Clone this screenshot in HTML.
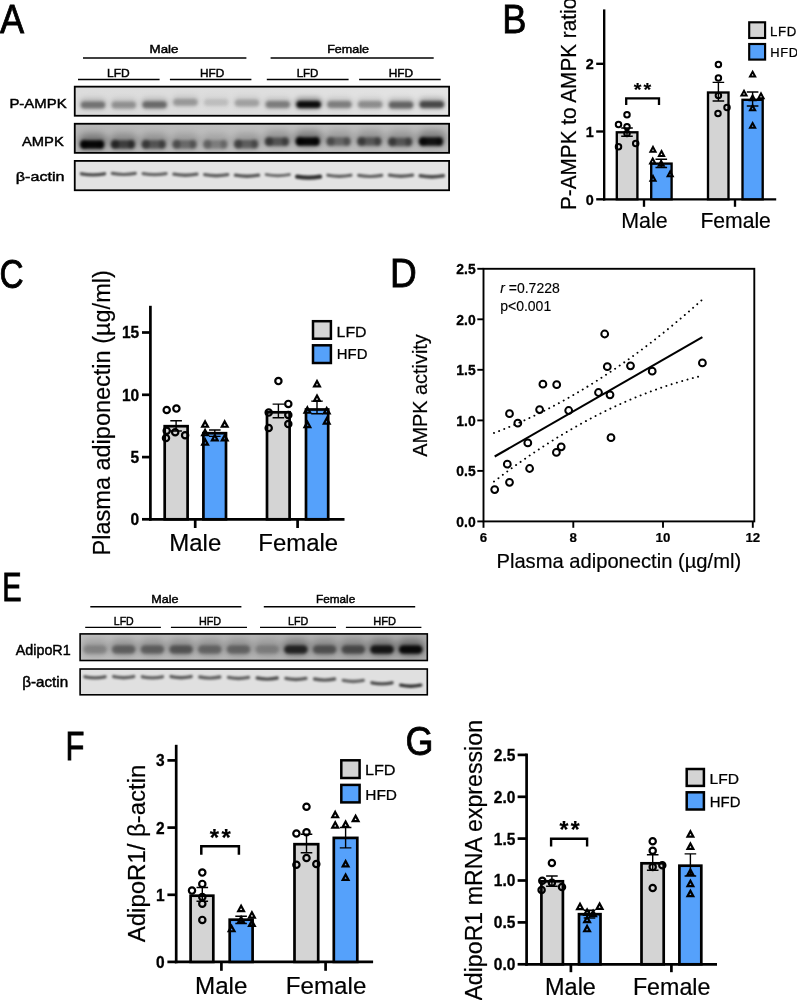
<!DOCTYPE html>
<html lang="en">
<head>
<meta charset="utf-8">
<title>Figure</title>
<style>
html,body{margin:0;padding:0;background:#fff;}
body{width:797px;height:1000px;overflow:hidden;}
svg{display:block;}
svg text{font-family:"Liberation Sans", sans-serif;fill:#000;}
</style>
</head>
<body>
<svg width="797" height="1000" viewBox="0 0 797 1000">
<rect width="797" height="1000" fill="#fff"/>
<defs>
<filter id="b0_7" x="-30%" y="-300%" width="160%" height="700%"><feGaussianBlur stdDeviation="0.7"/></filter>
<filter id="b0_9" x="-30%" y="-300%" width="160%" height="700%"><feGaussianBlur stdDeviation="0.9"/></filter>
<filter id="b1_4" x="-30%" y="-300%" width="160%" height="700%"><feGaussianBlur stdDeviation="1.4"/></filter>
<filter id="b1_8" x="-30%" y="-300%" width="160%" height="700%"><feGaussianBlur stdDeviation="1.8"/></filter>
<filter id="b2_4" x="-30%" y="-300%" width="160%" height="700%"><feGaussianBlur stdDeviation="2.4"/></filter>
<filter id="b3_5" x="-30%" y="-300%" width="160%" height="700%"><feGaussianBlur stdDeviation="3.5"/></filter>
<linearGradient id="gA1" x1="0" y1="0" x2="1" y2="0"><stop offset="0" stop-color="#dcdcdc"/><stop offset="0.5" stop-color="#dedede"/><stop offset="1" stop-color="#e4e4e4"/></linearGradient>
<linearGradient id="gA2" x1="0" y1="0" x2="1" y2="0"><stop offset="0" stop-color="#b6b6b6"/><stop offset="0.45" stop-color="#c0c0c0"/><stop offset="1" stop-color="#bcbcbc"/></linearGradient>
<linearGradient id="gE1" x1="0" y1="0" x2="1" y2="0"><stop offset="0" stop-color="#c0c0c0"/><stop offset="0.5" stop-color="#b6b6b6"/><stop offset="1" stop-color="#aaaaaa"/></linearGradient>
</defs>
<text transform="translate(0.0 33.0) scale(0.9057 1.0182)" font-size="40" stroke="#000" stroke-width="0.8">A</text>
<text transform="translate(149.61 53.3) scale(1.1912 1)" font-size="11.2" stroke="#000" stroke-width="0.45">Male</text>
<text transform="translate(327.18 53.3) scale(1.1217 1)" font-size="11.2" stroke="#000" stroke-width="0.45">Female</text>
<line x1="83" y1="58" x2="246.4" y2="58" stroke="#000" stroke-width="1.5" />
<line x1="270.6" y1="58" x2="433.7" y2="58" stroke="#000" stroke-width="1.5" />
<text transform="translate(107.03 76.9) scale(1.0718 1)" font-size="11.2" stroke="#000" stroke-width="0.45">LFD</text>
<text transform="translate(199.95 76.9) scale(1.0512 1)" font-size="11.2" stroke="#000" stroke-width="0.45">HFD</text>
<text transform="translate(296.67 76.9) scale(1.0256 1)" font-size="11.2" stroke="#000" stroke-width="0.45">LFD</text>
<text transform="translate(388.74 76.9) scale(1.0605 1)" font-size="11.2" stroke="#000" stroke-width="0.45">HFD</text>
<line x1="78" y1="79.6" x2="159.6" y2="79.6" stroke="#000" stroke-width="1.5" />
<line x1="169.9" y1="79.6" x2="251.4" y2="79.6" stroke="#000" stroke-width="1.5" />
<line x1="266.8" y1="79.6" x2="348.6" y2="79.6" stroke="#000" stroke-width="1.5" />
<line x1="359.1" y1="79.6" x2="440.7" y2="79.6" stroke="#000" stroke-width="1.5" />
<text transform="translate(9.4 108.4) scale(1.098 1)" font-size="13.6" stroke="#000" stroke-width="0.45">P-AMPK</text>
<text transform="translate(22.0 146.3) scale(1.085 1)" font-size="13.6" stroke="#000" stroke-width="0.45">AMPK</text>
<text transform="translate(15.82 181.2) scale(1.1847 1)" font-size="13.6" stroke="#000" stroke-width="0.45">β-actin</text>
<clipPath id="cpA1"><rect x="74.75" y="86.65" width="374.35" height="29.1"/></clipPath>
<rect x="74.75" y="86.65" width="374.35" height="29.1" fill="url(#gA1)"/>
<g clip-path="url(#cpA1)">
<g filter="url(#b2_4)">
<rect x="79.0" y="97.8" width="28" height="12" rx="6.0" fill="#000" fill-opacity="0.144"/>
<rect x="109.8" y="97.8" width="28" height="12" rx="6.0" fill="#000" fill-opacity="0.1008"/>
<rect x="140.6" y="97.6" width="28" height="12" rx="6.0" fill="#000" fill-opacity="0.15839999999999999"/>
<rect x="171.4" y="95.0" width="28" height="12" rx="6.0" fill="#000" fill-opacity="0.09"/>
<rect x="202.2" y="95.2" width="28" height="12" rx="6.0" fill="#000" fill-opacity="0.039599999999999996"/>
<rect x="233.0" y="95.8" width="28" height="12" rx="6.0" fill="#000" fill-opacity="0.07919999999999999"/>
<rect x="263.8" y="97.4" width="28" height="12" rx="6.0" fill="#000" fill-opacity="0.1296"/>
<rect x="294.6" y="97.2" width="28" height="12" rx="6.0" fill="#000" fill-opacity="0.3312"/>
<rect x="325.4" y="97.4" width="28" height="12" rx="6.0" fill="#000" fill-opacity="0.1296"/>
<rect x="356.2" y="97.4" width="28" height="12" rx="6.0" fill="#000" fill-opacity="0.108"/>
<rect x="387.0" y="97.8" width="28" height="12" rx="6.0" fill="#000" fill-opacity="0.17279999999999998"/>
<rect x="417.8" y="97.2" width="28" height="12" rx="6.0" fill="#000" fill-opacity="0.216"/>
</g>
<g filter="url(#b1_4)">
<rect x="80.75" y="101.5" width="24.5" height="7" rx="3.5" fill="#000" fill-opacity="0.4"/>
<rect x="111.55" y="101.5" width="24.5" height="7" rx="3.5" fill="#000" fill-opacity="0.28"/>
<rect x="142.35" y="101.3" width="24.5" height="7" rx="3.5" fill="#000" fill-opacity="0.44"/>
<rect x="173.15" y="98.7" width="24.5" height="7" rx="3.5" fill="#000" fill-opacity="0.25"/>
<rect x="203.95" y="98.9" width="24.5" height="7" rx="3.5" fill="#000" fill-opacity="0.11"/>
<rect x="234.75" y="99.5" width="24.5" height="7" rx="3.5" fill="#000" fill-opacity="0.22"/>
<rect x="265.55" y="101.1" width="24.5" height="7" rx="3.5" fill="#000" fill-opacity="0.36"/>
<rect x="296.35" y="100.9" width="24.5" height="7" rx="3.5" fill="#000" fill-opacity="0.92"/>
<rect x="327.15" y="101.1" width="24.5" height="7" rx="3.5" fill="#000" fill-opacity="0.36"/>
<rect x="357.95" y="101.1" width="24.5" height="7" rx="3.5" fill="#000" fill-opacity="0.3"/>
<rect x="388.75" y="101.5" width="24.5" height="7" rx="3.5" fill="#000" fill-opacity="0.48"/>
<rect x="419.55" y="100.9" width="24.5" height="7" rx="3.5" fill="#000" fill-opacity="0.6"/>
</g>
</g>
<rect x="74.75" y="86.65" width="374.35" height="29.1" fill="none" stroke="#000" stroke-width="1.8"/>
<clipPath id="cpA2"><rect x="74.75" y="123.75" width="374.35" height="29.1"/></clipPath>
<rect x="74.75" y="123.75" width="374.35" height="29.1" fill="url(#gA2)"/>
<g clip-path="url(#cpA2)">
<g filter="url(#b3_5)">
<rect x="78.5" y="133.6" width="29" height="16" rx="8.0" fill="#000" fill-opacity="0.34"/>
<rect x="109.3" y="133.4" width="29" height="16" rx="8.0" fill="#000" fill-opacity="0.2584"/>
<rect x="140.1" y="133.4" width="29" height="16" rx="8.0" fill="#000" fill-opacity="0.21760000000000002"/>
<rect x="170.9" y="133.4" width="29" height="16" rx="8.0" fill="#000" fill-opacity="0.1768"/>
<rect x="201.7" y="133.4" width="29" height="16" rx="8.0" fill="#000" fill-opacity="0.1428"/>
<rect x="232.5" y="133.2" width="29" height="16" rx="8.0" fill="#000" fill-opacity="0.19720000000000001"/>
<rect x="263.3" y="130.8" width="29" height="16" rx="8.0" fill="#000" fill-opacity="0.21760000000000002"/>
<rect x="294.1" y="130.4" width="29" height="16" rx="8.0" fill="#000" fill-opacity="0.34"/>
<rect x="324.9" y="130.6" width="29" height="16" rx="8.0" fill="#000" fill-opacity="0.1768"/>
<rect x="355.7" y="130.6" width="29" height="16" rx="8.0" fill="#000" fill-opacity="0.21080000000000002"/>
<rect x="386.5" y="131.0" width="29" height="16" rx="8.0" fill="#000" fill-opacity="0.21080000000000002"/>
<rect x="417.3" y="130.6" width="29" height="16" rx="8.0" fill="#000" fill-opacity="0.323"/>
</g>
<g filter="url(#b1_8)">
<rect x="80.0" y="140.35" width="24" height="8.5" rx="4.25" fill="#000" fill-opacity="0.95"/>
<rect x="80.0" y="139.65" width="8" height="9.5" rx="4.0" fill="#000" fill-opacity="0.55"/>
<rect x="97.5" y="139.65" width="7" height="9.5" rx="3.5" fill="#000" fill-opacity="0.45"/>
<rect x="110.8" y="140.15" width="24" height="8.5" rx="4.25" fill="#000" fill-opacity="0.5700000000000001"/>
<rect x="110.8" y="139.45" width="8" height="9.5" rx="4.0" fill="#000" fill-opacity="0.41800000000000004"/>
<rect x="128.3" y="139.45" width="7" height="9.5" rx="3.5" fill="#000" fill-opacity="0.342"/>
<rect x="141.6" y="140.15" width="24" height="8.5" rx="4.25" fill="#000" fill-opacity="0.44799999999999995"/>
<rect x="141.6" y="139.45" width="8" height="9.5" rx="4.0" fill="#000" fill-opacity="0.35200000000000004"/>
<rect x="159.1" y="139.45" width="7" height="9.5" rx="3.5" fill="#000" fill-opacity="0.28800000000000003"/>
<rect x="172.4" y="140.15" width="24" height="8.5" rx="4.25" fill="#000" fill-opacity="0.338"/>
<rect x="172.4" y="139.45" width="8" height="9.5" rx="4.0" fill="#000" fill-opacity="0.28600000000000003"/>
<rect x="189.9" y="139.45" width="7" height="9.5" rx="3.5" fill="#000" fill-opacity="0.234"/>
<rect x="203.2" y="140.15" width="24" height="8.5" rx="4.25" fill="#000" fill-opacity="0.252"/>
<rect x="203.2" y="139.45" width="8" height="9.5" rx="4.0" fill="#000" fill-opacity="0.231"/>
<rect x="220.7" y="139.45" width="7" height="9.5" rx="3.5" fill="#000" fill-opacity="0.189"/>
<rect x="234.0" y="139.95" width="24" height="8.5" rx="4.25" fill="#000" fill-opacity="0.40599999999999997"/>
<rect x="234.0" y="139.25" width="8" height="9.5" rx="4.0" fill="#000" fill-opacity="0.319"/>
<rect x="251.5" y="139.25" width="7" height="9.5" rx="3.5" fill="#000" fill-opacity="0.261"/>
<rect x="264.8" y="137.55" width="24" height="8.5" rx="4.25" fill="#000" fill-opacity="0.4608"/>
<rect x="264.8" y="136.85" width="8" height="9.5" rx="4.0" fill="#000" fill-opacity="0.35200000000000004"/>
<rect x="282.3" y="136.85" width="7" height="9.5" rx="3.5" fill="#000" fill-opacity="0.28800000000000003"/>
<rect x="295.6" y="137.15" width="24" height="8.5" rx="4.25" fill="#000" fill-opacity="0.95"/>
<rect x="295.6" y="136.45" width="8" height="9.5" rx="4.0" fill="#000" fill-opacity="0.55"/>
<rect x="313.1" y="136.45" width="7" height="9.5" rx="3.5" fill="#000" fill-opacity="0.45"/>
<rect x="326.4" y="137.35" width="24" height="8.5" rx="4.25" fill="#000" fill-opacity="0.364"/>
<rect x="326.4" y="136.65" width="8" height="9.5" rx="4.0" fill="#000" fill-opacity="0.28600000000000003"/>
<rect x="343.9" y="136.65" width="7" height="9.5" rx="3.5" fill="#000" fill-opacity="0.234"/>
<rect x="357.2" y="137.35" width="24" height="8.5" rx="4.25" fill="#000" fill-opacity="0.434"/>
<rect x="357.2" y="136.65" width="8" height="9.5" rx="4.0" fill="#000" fill-opacity="0.341"/>
<rect x="374.7" y="136.65" width="7" height="9.5" rx="3.5" fill="#000" fill-opacity="0.279"/>
<rect x="388.0" y="137.75" width="24" height="8.5" rx="4.25" fill="#000" fill-opacity="0.44639999999999996"/>
<rect x="388.0" y="137.05" width="8" height="9.5" rx="4.0" fill="#000" fill-opacity="0.341"/>
<rect x="405.5" y="137.05" width="7" height="9.5" rx="3.5" fill="#000" fill-opacity="0.279"/>
<rect x="418.8" y="137.35" width="24" height="8.5" rx="4.25" fill="#000" fill-opacity="0.874"/>
<rect x="418.8" y="136.65" width="8" height="9.5" rx="4.0" fill="#000" fill-opacity="0.5225"/>
<rect x="436.3" y="136.65" width="7" height="9.5" rx="3.5" fill="#000" fill-opacity="0.4275"/>
</g>
</g>
<rect x="74.75" y="123.75" width="374.35" height="29.1" fill="none" stroke="#000" stroke-width="1.8"/>
<clipPath id="cpA3"><rect x="74.75" y="160.9" width="374.35" height="29.35"/></clipPath>
<rect x="74.75" y="160.9" width="374.35" height="29.35" fill="#e3e3e3"/>
<g clip-path="url(#cpA3)">
<g filter="url(#b0_9)">
<path d="M81.5 173.8Q93.0 175.96 104.5 173.8" stroke="#000" stroke-opacity="0.66" stroke-width="3.4" fill="none" stroke-linecap="round"/>
<path d="M112.3 173.4Q123.8 175.56 135.3 173.4" stroke="#000" stroke-opacity="0.58" stroke-width="3.2" fill="none" stroke-linecap="round"/>
<path d="M143.1 173.6Q154.6 175.76 166.1 173.6" stroke="#000" stroke-opacity="0.55" stroke-width="3.2" fill="none" stroke-linecap="round"/>
<path d="M173.9 174.2Q185.4 176.36 196.9 174.2" stroke="#000" stroke-opacity="0.58" stroke-width="3.4" fill="none" stroke-linecap="round"/>
<path d="M204.7 174.6Q216.2 176.76 227.7 174.6" stroke="#000" stroke-opacity="0.58" stroke-width="3.4" fill="none" stroke-linecap="round"/>
<path d="M235.5 175.2Q247.0 177.36 258.5 175.2" stroke="#000" stroke-opacity="0.62" stroke-width="3.4" fill="none" stroke-linecap="round"/>
<path d="M266.3 174.6Q277.8 176.76 289.3 174.6" stroke="#000" stroke-opacity="0.55" stroke-width="3.0" fill="none" stroke-linecap="round"/>
<path d="M297.1 176.6Q308.6 178.76 320.1 176.6" stroke="#000" stroke-opacity="0.78" stroke-width="4.2" fill="none" stroke-linecap="round"/>
<path d="M327.9 175.2Q339.4 177.36 350.9 175.2" stroke="#000" stroke-opacity="0.58" stroke-width="3.2" fill="none" stroke-linecap="round"/>
<path d="M358.7 175.4Q370.2 177.56 381.7 175.4" stroke="#000" stroke-opacity="0.58" stroke-width="3.2" fill="none" stroke-linecap="round"/>
<path d="M389.5 175.2Q401.0 177.36 412.5 175.2" stroke="#000" stroke-opacity="0.6" stroke-width="3.4" fill="none" stroke-linecap="round"/>
<path d="M420.3 175.8Q431.8 177.96 443.3 175.8" stroke="#000" stroke-opacity="0.66" stroke-width="3.6" fill="none" stroke-linecap="round"/>
</g>
</g>
<rect x="74.75" y="160.9" width="374.35" height="29.35" fill="none" stroke="#000" stroke-width="1.8"/>
<text transform="translate(502.15 32.9) scale(0.9082 1.0145)" font-size="40" stroke="#000" stroke-width="0.8">B</text>
<text transform="translate(576.4 210.04) rotate(-90) scale(0.9356 1)" font-size="22.2" stroke="#000" stroke-width="0.2">P-AMPK to AMPK ratio</text>
<line x1="604.2" y1="9.4" x2="604.2" y2="200.5" stroke="#000" stroke-width="2.35" />
<line x1="603.1" y1="199.3" x2="776.2" y2="199.3" stroke="#000" stroke-width="2.35" />
<line x1="596.2" y1="199.3" x2="604.2" y2="199.3" stroke="#000" stroke-width="2.35" />
<text transform="translate(593.8 204.85) scale(1 1.07)" text-anchor="end" font-size="14.4" font-weight="bold" stroke="#000" stroke-width="0.3">0</text>
<line x1="596.2" y1="131.5" x2="604.2" y2="131.5" stroke="#000" stroke-width="2.35" />
<text transform="translate(593.8 137.05) scale(1 1.07)" text-anchor="end" font-size="14.4" font-weight="bold" stroke="#000" stroke-width="0.3">1</text>
<line x1="596.2" y1="63.8" x2="604.2" y2="63.8" stroke="#000" stroke-width="2.35" />
<text transform="translate(593.8 69.35) scale(1 1.07)" text-anchor="end" font-size="14.4" font-weight="bold" stroke="#000" stroke-width="0.3">2</text>
<line x1="644" y1="199.3" x2="644" y2="206.8" stroke="#000" stroke-width="2.35" />
<line x1="735" y1="199.3" x2="735" y2="206.8" stroke="#000" stroke-width="2.35" />
<text transform="translate(621.26 227.8) scale(0.9932 1)" font-size="21.5" stroke="#000" stroke-width="0.2">Male</text>
<text transform="translate(700.38 227.8) scale(0.9841 1)" font-size="21.5" stroke="#000" stroke-width="0.2">Female</text>
<rect x="616.8" y="132.3" width="20.6" height="67.0" fill="#d4d4d4" stroke="#000" stroke-width="2.35"/>
<rect x="651.2" y="163.6" width="20.4" height="35.7" fill="#55a1fb" stroke="#000" stroke-width="2.35"/>
<rect x="708" y="92.5" width="20.5" height="106.8" fill="#d4d4d4" stroke="#000" stroke-width="2.35"/>
<rect x="742.5" y="99.8" width="20.2" height="99.5" fill="#55a1fb" stroke="#000" stroke-width="2.35"/>
<path d="M627 128V136.2M621.2 128H632.8M621.2 136.2H632.8" stroke="#000" stroke-width="1.4" fill="none"/>
<path d="M661.3 159.3V167.5M655.5 159.3H667.1M655.5 167.5H667.1" stroke="#000" stroke-width="1.4" fill="none"/>
<path d="M718.4 82.4V101M712.6 82.4H724.2M712.6 101H724.2" stroke="#000" stroke-width="1.4" fill="none"/>
<path d="M752.6 92V106M746.8 92H758.4M746.8 106H758.4" stroke="#000" stroke-width="1.4" fill="none"/>
<circle cx="627" cy="114.7" r="2.75" fill="none" stroke="#000" stroke-width="2.0"/>
<circle cx="618.5" cy="124.5" r="2.75" fill="none" stroke="#000" stroke-width="2.0"/>
<circle cx="627" cy="126.7" r="2.75" fill="none" stroke="#000" stroke-width="2.0"/>
<circle cx="627" cy="133.5" r="2.75" fill="none" stroke="#000" stroke-width="2.0"/>
<circle cx="635.7" cy="143.5" r="2.75" fill="none" stroke="#000" stroke-width="2.0"/>
<circle cx="618.5" cy="146.7" r="2.75" fill="none" stroke="#000" stroke-width="2.0"/>
<path d="M653 146.9L655.6 151.71H650.4Z" fill="none" stroke="#000" stroke-width="2.0"/>
<path d="M661.5 151.1L664.1 155.91H658.9Z" fill="none" stroke="#000" stroke-width="2.0"/>
<path d="M652.7 158.6L655.3 163.41H650.1Z" fill="none" stroke="#000" stroke-width="2.0"/>
<path d="M661.2 160.9L663.8 165.71H658.6Z" fill="none" stroke="#000" stroke-width="2.0"/>
<path d="M670.2 171.4L672.8 176.21H667.6Z" fill="none" stroke="#000" stroke-width="2.0"/>
<path d="M653 175.9L655.6 180.71H650.4Z" fill="none" stroke="#000" stroke-width="2.0"/>
<circle cx="718.4" cy="64.6" r="2.75" fill="none" stroke="#000" stroke-width="2.0"/>
<circle cx="718.4" cy="78" r="2.75" fill="none" stroke="#000" stroke-width="2.0"/>
<circle cx="718.4" cy="95.6" r="2.75" fill="none" stroke="#000" stroke-width="2.0"/>
<circle cx="727" cy="107.4" r="2.75" fill="none" stroke="#000" stroke-width="2.0"/>
<circle cx="718" cy="113.4" r="2.75" fill="none" stroke="#000" stroke-width="2.0"/>
<path d="M752.6 71.8L755.2 76.61H750.0Z" fill="none" stroke="#000" stroke-width="2.0"/>
<path d="M744 90.8L746.6 95.61H741.4Z" fill="none" stroke="#000" stroke-width="2.0"/>
<path d="M761 93.4L763.6 98.21H758.4Z" fill="none" stroke="#000" stroke-width="2.0"/>
<path d="M752.6 95.4L755.2 100.21H750.0Z" fill="none" stroke="#000" stroke-width="2.0"/>
<path d="M752.6 105.4L755.2 110.21H750.0Z" fill="none" stroke="#000" stroke-width="2.0"/>
<path d="M752.6 123.0L755.2 127.81H750.0Z" fill="none" stroke="#000" stroke-width="2.0"/>
<path d="M626.2 105.1V98.3H659V105.1" fill="none" stroke="#000" stroke-width="2.3"/>
<text transform="translate(633.69 95.8) scale(0.8241 0.8)" font-size="24" font-weight="bold" stroke="#000" stroke-width="0.2" letter-spacing="2.5">**</text>
<rect x="749.2" y="22.3" width="15.9" height="15.7" fill="#d4d4d4" stroke="#000" stroke-width="2.15"/>
<rect x="749.2" y="44" width="15.9" height="15.6" fill="#55a1fb" stroke="#000" stroke-width="2.15"/>
<text transform="translate(770.0 35.9) scale(1.002 1)" font-size="13.2" stroke="#000" stroke-width="0.25" letter-spacing="0.7">LFD</text>
<text transform="translate(770.22 57.0) scale(0.9778 1)" font-size="13.2" stroke="#000" stroke-width="0.25" letter-spacing="0.7">HFD</text>
<text transform="translate(-0.57 287.5) scale(0.8356 1.0035)" font-size="40" stroke="#000" stroke-width="0.8">C</text>
<text transform="translate(110.4 555.38) rotate(-90) scale(0.9876 1)" font-size="23.8" stroke="#000" stroke-width="0.2">Plasma adiponectin (µg/ml)</text>
<line x1="150.4" y1="305.8" x2="150.4" y2="520.65" stroke="#000" stroke-width="2.7" />
<line x1="149.05" y1="519.3" x2="344.5" y2="519.3" stroke="#000" stroke-width="2.7" />
<line x1="142" y1="519.3" x2="150.4" y2="519.3" stroke="#000" stroke-width="2.7" />
<text transform="translate(139.2 525.27) scale(1 1.07)" text-anchor="end" font-size="15.5" font-weight="bold" stroke="#000" stroke-width="0.3">0</text>
<line x1="142" y1="457.1" x2="150.4" y2="457.1" stroke="#000" stroke-width="2.7" />
<text transform="translate(139.2 463.07) scale(1 1.07)" text-anchor="end" font-size="15.5" font-weight="bold" stroke="#000" stroke-width="0.3">5</text>
<line x1="142" y1="394.8" x2="150.4" y2="394.8" stroke="#000" stroke-width="2.7" />
<text transform="translate(139.2 400.77) scale(1 1.07)" text-anchor="end" font-size="15.5" font-weight="bold" stroke="#000" stroke-width="0.3">10</text>
<line x1="142" y1="332.5" x2="150.4" y2="332.5" stroke="#000" stroke-width="2.7" />
<text transform="translate(139.2 338.47) scale(1 1.07)" text-anchor="end" font-size="15.5" font-weight="bold" stroke="#000" stroke-width="0.3">15</text>
<line x1="195.2" y1="519.3" x2="195.2" y2="528" stroke="#000" stroke-width="2.7" />
<line x1="297.6" y1="519.3" x2="297.6" y2="528" stroke="#000" stroke-width="2.7" />
<text transform="translate(169.26 551.4) scale(1.0208 1)" font-size="23.5" stroke="#000" stroke-width="0.2">Male</text>
<text transform="translate(258.36 551.4) scale(1.0179 1)" font-size="23.5" stroke="#000" stroke-width="0.2">Female</text>
<rect x="164.7" y="426.2" width="22.9" height="93.1" fill="#d4d4d4" stroke="#000" stroke-width="2.7"/>
<rect x="203.4" y="433.2" width="22.6" height="86.1" fill="#55a1fb" stroke="#000" stroke-width="2.7"/>
<rect x="267" y="412.3" width="22.6" height="107.0" fill="#d4d4d4" stroke="#000" stroke-width="2.7"/>
<rect x="306" y="409.5" width="22.2" height="109.8" fill="#55a1fb" stroke="#000" stroke-width="2.7"/>
<path d="M176.1 420.8V431M170.3 420.8H181.9M170.3 431H181.9" stroke="#000" stroke-width="1.4" fill="none"/>
<path d="M214.8 430V436.4M209.0 430H220.6M209.0 436.4H220.6" stroke="#000" stroke-width="1.4" fill="none"/>
<path d="M278.4 404.1V417.7M272.6 404.1H284.2M272.6 417.7H284.2" stroke="#000" stroke-width="1.4" fill="none"/>
<path d="M317 401.1V413.8M311.2 401.1H322.8M311.2 413.8H322.8" stroke="#000" stroke-width="1.4" fill="none"/>
<circle cx="166.7" cy="410" r="3.15" fill="none" stroke="#000" stroke-width="2.2"/>
<circle cx="176.4" cy="408.6" r="3.15" fill="none" stroke="#000" stroke-width="2.2"/>
<circle cx="166.7" cy="430.7" r="3.15" fill="none" stroke="#000" stroke-width="2.2"/>
<circle cx="175.2" cy="432.3" r="3.15" fill="none" stroke="#000" stroke-width="2.2"/>
<circle cx="185.1" cy="435.3" r="3.15" fill="none" stroke="#000" stroke-width="2.2"/>
<circle cx="166" cy="438" r="3.15" fill="none" stroke="#000" stroke-width="2.2"/>
<path d="M205.1 421.4L208.0 426.76H202.2Z" fill="none" stroke="#000" stroke-width="2.2"/>
<path d="M224.7 421.4L227.6 426.76H221.8Z" fill="none" stroke="#000" stroke-width="2.2"/>
<path d="M205.1 429.9L208.0 435.26H202.2Z" fill="none" stroke="#000" stroke-width="2.2"/>
<path d="M214.8 435.1L217.7 440.46H211.9Z" fill="none" stroke="#000" stroke-width="2.2"/>
<path d="M224.7 435.1L227.6 440.46H221.8Z" fill="none" stroke="#000" stroke-width="2.2"/>
<path d="M205.1 439.3L208.0 444.66H202.2Z" fill="none" stroke="#000" stroke-width="2.2"/>
<circle cx="278.4" cy="381.1" r="3.15" fill="none" stroke="#000" stroke-width="2.2"/>
<circle cx="288.3" cy="403.9" r="3.15" fill="none" stroke="#000" stroke-width="2.2"/>
<circle cx="268.7" cy="412.6" r="3.15" fill="none" stroke="#000" stroke-width="2.2"/>
<circle cx="288.3" cy="414.9" r="3.15" fill="none" stroke="#000" stroke-width="2.2"/>
<circle cx="288.3" cy="424.1" r="3.15" fill="none" stroke="#000" stroke-width="2.2"/>
<circle cx="268.7" cy="428" r="3.15" fill="none" stroke="#000" stroke-width="2.2"/>
<path d="M317 381.0L319.9 386.36H314.1Z" fill="none" stroke="#000" stroke-width="2.2"/>
<path d="M317 395.5L319.9 400.86H314.1Z" fill="none" stroke="#000" stroke-width="2.2"/>
<path d="M307.4 407.4L310.3 412.76H304.5Z" fill="none" stroke="#000" stroke-width="2.2"/>
<path d="M326.7 408.1L329.6 413.46H323.8Z" fill="none" stroke="#000" stroke-width="2.2"/>
<path d="M326.7 418.2L329.6 423.56H323.8Z" fill="none" stroke="#000" stroke-width="2.2"/>
<path d="M307.4 421.7L310.3 427.06H304.5Z" fill="none" stroke="#000" stroke-width="2.2"/>
<rect x="313" y="321.2" width="17.9" height="17.5" fill="#d4d4d4" stroke="#000" stroke-width="2.5"/>
<rect x="313" y="345.3" width="17.9" height="17.7" fill="#55a1fb" stroke="#000" stroke-width="2.5"/>
<text transform="translate(336.54 336.6) scale(1.0902 1)" font-size="14.6" stroke="#000" stroke-width="0.25">LFD</text>
<text transform="translate(336.82 359.2) scale(1.0214 1)" font-size="14.6" stroke="#000" stroke-width="0.25">HFD</text>
<text transform="translate(389.99 287.0) scale(0.9263 1.0218)" font-size="40" stroke="#000" stroke-width="0.8">D</text>
<text transform="translate(427.2 456.7) rotate(-90) scale(0.9687 1)" font-size="20.5" stroke="#000" stroke-width="0.2">AMPK activity</text>
<rect x="483.5" y="268.8" width="270.8" height="252.6" fill="none" stroke="#000" stroke-width="1.9"/>
<line x1="477.3" y1="521.4" x2="483.5" y2="521.4" stroke="#000" stroke-width="1.9" />
<text transform="translate(475.6 526.75) scale(1 1.07)" text-anchor="end" font-size="13.9" font-weight="bold" stroke="#000" stroke-width="0.3">0.0</text>
<line x1="477.3" y1="470.9" x2="483.5" y2="470.9" stroke="#000" stroke-width="1.9" />
<text transform="translate(475.6 476.25) scale(1 1.07)" text-anchor="end" font-size="13.9" font-weight="bold" stroke="#000" stroke-width="0.3">0.5</text>
<line x1="477.3" y1="420.4" x2="483.5" y2="420.4" stroke="#000" stroke-width="1.9" />
<text transform="translate(475.6 425.75) scale(1 1.07)" text-anchor="end" font-size="13.9" font-weight="bold" stroke="#000" stroke-width="0.3">1.0</text>
<line x1="477.3" y1="369.8" x2="483.5" y2="369.8" stroke="#000" stroke-width="1.9" />
<text transform="translate(475.6 375.15) scale(1 1.07)" text-anchor="end" font-size="13.9" font-weight="bold" stroke="#000" stroke-width="0.3">1.5</text>
<line x1="477.3" y1="319.3" x2="483.5" y2="319.3" stroke="#000" stroke-width="1.9" />
<text transform="translate(475.6 324.65) scale(1 1.07)" text-anchor="end" font-size="13.9" font-weight="bold" stroke="#000" stroke-width="0.3">2.0</text>
<line x1="477.3" y1="268.8" x2="483.5" y2="268.8" stroke="#000" stroke-width="1.9" />
<text transform="translate(475.6 274.15) scale(1 1.07)" text-anchor="end" font-size="13.9" font-weight="bold" stroke="#000" stroke-width="0.3">2.5</text>
<line x1="483.5" y1="521.4" x2="483.5" y2="527.8" stroke="#000" stroke-width="1.9" />
<text x="483.5" y="541.7" text-anchor="middle" font-size="13.3" font-weight="bold" stroke="#000" stroke-width="0.2" >6</text>
<line x1="573.3" y1="521.4" x2="573.3" y2="527.8" stroke="#000" stroke-width="1.9" />
<text x="573.3" y="541.7" text-anchor="middle" font-size="13.3" font-weight="bold" stroke="#000" stroke-width="0.2" >8</text>
<line x1="663" y1="521.4" x2="663" y2="527.8" stroke="#000" stroke-width="1.9" />
<text x="663" y="541.7" text-anchor="middle" font-size="13.3" font-weight="bold" stroke="#000" stroke-width="0.2" >10</text>
<line x1="752.8" y1="521.4" x2="752.8" y2="527.8" stroke="#000" stroke-width="1.9" />
<text x="752.8" y="541.7" text-anchor="middle" font-size="13.3" font-weight="bold" stroke="#000" stroke-width="0.2" >12</text>
<text transform="translate(496.48 567.7) scale(0.9835 1)" font-size="20.5" stroke="#000" stroke-width="0.2">Plasma adiponectin (µg/ml)</text>
<text x="500.2" y="293.4" text-anchor="start" font-size="14" stroke="#000" stroke-width="0.15" ><tspan font-style="italic">r</tspan> =0.7228</text>
<text x="500.2" y="310.7" text-anchor="start" font-size="14" stroke="#000" stroke-width="0.15" >p&lt;0.001</text>
<path d="M494.7 456.5L702.4 337.1" stroke="#000" stroke-width="2.1" fill="none"/>
<path d="M494 433Q598.5 393.4 703 299" stroke="#000" stroke-width="1.9" fill="none" stroke-dasharray="0.1 5.4" stroke-linecap="round"/>
<path d="M494 481.6Q597.5 401.2 701 376" stroke="#000" stroke-width="1.9" fill="none" stroke-dasharray="0.1 5.4" stroke-linecap="round"/>
<circle cx="604.7" cy="334" r="3.4" fill="none" stroke="#000" stroke-width="2.0"/>
<circle cx="607.3" cy="366.7" r="3.4" fill="none" stroke="#000" stroke-width="2.0"/>
<circle cx="630.5" cy="365.8" r="3.4" fill="none" stroke="#000" stroke-width="2.0"/>
<circle cx="542.9" cy="384.2" r="3.4" fill="none" stroke="#000" stroke-width="2.0"/>
<circle cx="556.7" cy="384.7" r="3.4" fill="none" stroke="#000" stroke-width="2.0"/>
<circle cx="598.5" cy="392.5" r="3.4" fill="none" stroke="#000" stroke-width="2.0"/>
<circle cx="610" cy="394.8" r="3.4" fill="none" stroke="#000" stroke-width="2.0"/>
<circle cx="539.6" cy="409.6" r="3.4" fill="none" stroke="#000" stroke-width="2.0"/>
<circle cx="568.7" cy="410.5" r="3.4" fill="none" stroke="#000" stroke-width="2.0"/>
<circle cx="509.5" cy="413.7" r="3.4" fill="none" stroke="#000" stroke-width="2.0"/>
<circle cx="517.8" cy="423.2" r="3.4" fill="none" stroke="#000" stroke-width="2.0"/>
<circle cx="611" cy="437.7" r="3.4" fill="none" stroke="#000" stroke-width="2.0"/>
<circle cx="527.8" cy="442.9" r="3.4" fill="none" stroke="#000" stroke-width="2.0"/>
<circle cx="561.2" cy="446.8" r="3.4" fill="none" stroke="#000" stroke-width="2.0"/>
<circle cx="556.4" cy="452.4" r="3.4" fill="none" stroke="#000" stroke-width="2.0"/>
<circle cx="507.3" cy="464.2" r="3.4" fill="none" stroke="#000" stroke-width="2.0"/>
<circle cx="529.6" cy="468.5" r="3.4" fill="none" stroke="#000" stroke-width="2.0"/>
<circle cx="509.5" cy="482.3" r="3.4" fill="none" stroke="#000" stroke-width="2.0"/>
<circle cx="494.7" cy="489.6" r="3.4" fill="none" stroke="#000" stroke-width="2.0"/>
<circle cx="702.4" cy="362.9" r="3.4" fill="none" stroke="#000" stroke-width="2.0"/>
<circle cx="652.2" cy="371.2" r="3.4" fill="none" stroke="#000" stroke-width="2.0"/>
<text transform="translate(2.34 601.0) scale(0.7264 1.0109)" font-size="40" stroke="#000" stroke-width="0.85">E</text>
<text transform="translate(151.23 602.5) scale(1.0667 1)" font-size="11.8" stroke="#000" stroke-width="0.45">Male</text>
<text transform="translate(316.0 602.5) scale(0.9987 1)" font-size="11.8" stroke="#000" stroke-width="0.45">Female</text>
<line x1="90.3" y1="606.8" x2="241.4" y2="606.8" stroke="#000" stroke-width="1.4" />
<line x1="263.8" y1="606.8" x2="415.2" y2="606.8" stroke="#000" stroke-width="1.4" />
<text transform="translate(113.8 624.6) scale(0.8964 1)" font-size="11.8" stroke="#000" stroke-width="0.45">LFD</text>
<text transform="translate(198.89 624.6) scale(0.9143 1)" font-size="11.8" stroke="#000" stroke-width="0.45">HFD</text>
<text transform="translate(287.99 624.6) scale(0.9108 1)" font-size="11.8" stroke="#000" stroke-width="0.45">LFD</text>
<text transform="translate(373.36 624.6) scale(0.9363 1)" font-size="11.8" stroke="#000" stroke-width="0.45">HFD</text>
<line x1="85.2" y1="627.4" x2="160.9" y2="627.4" stroke="#000" stroke-width="1.4" />
<line x1="170.9" y1="627.4" x2="247" y2="627.4" stroke="#000" stroke-width="1.4" />
<line x1="260" y1="627.4" x2="336" y2="627.4" stroke="#000" stroke-width="1.4" />
<line x1="345.9" y1="627.4" x2="421.4" y2="627.4" stroke="#000" stroke-width="1.4" />
<text transform="translate(15.8 654.6) scale(1.0226 1)" font-size="14" stroke="#000" stroke-width="0.45">AdipoR1</text>
<text transform="translate(22.21 687.0) scale(1.0864 1)" font-size="14" stroke="#000" stroke-width="0.45">β-actin</text>
<clipPath id="cpE1"><rect x="80.1" y="633.9" width="347.2" height="26.6"/></clipPath>
<rect x="80.1" y="633.9" width="347.2" height="26.6" fill="url(#gE1)"/>
<g clip-path="url(#cpE1)">
<g filter="url(#b3_5)">
<rect x="81.0" y="639.0" width="28" height="17" rx="8.5" fill="#000" fill-opacity="0.1572"/>
<rect x="109.7" y="639.0" width="28" height="17" rx="8.5" fill="#000" fill-opacity="0.2092"/>
<rect x="138.4" y="639.0" width="28" height="17" rx="8.5" fill="#000" fill-opacity="0.2092"/>
<rect x="167.1" y="639.0" width="28" height="17" rx="8.5" fill="#000" fill-opacity="0.2248"/>
<rect x="195.8" y="639.0" width="28" height="17" rx="8.5" fill="#000" fill-opacity="0.1988"/>
<rect x="224.5" y="639.0" width="28" height="17" rx="8.5" fill="#000" fill-opacity="0.1988"/>
<rect x="253.2" y="639.0" width="28" height="17" rx="8.5" fill="#000" fill-opacity="0.1572"/>
<rect x="281.9" y="639.0" width="28" height="17" rx="8.5" fill="#000" fill-opacity="0.30800000000000005"/>
<rect x="310.6" y="639.0" width="28" height="17" rx="8.5" fill="#000" fill-opacity="0.2248"/>
<rect x="339.3" y="639.0" width="28" height="17" rx="8.5" fill="#000" fill-opacity="0.23520000000000002"/>
<rect x="368.0" y="639.0" width="28" height="17" rx="8.5" fill="#000" fill-opacity="0.334"/>
<rect x="396.7" y="639.0" width="28" height="17" rx="8.5" fill="#000" fill-opacity="0.36"/>
</g>
<g filter="url(#b1_8)">
<rect x="83.25" y="645.35" width="23.5" height="8.5" rx="4.25" fill="#000" fill-opacity="0.2024"/>
<rect x="111.95" y="645.35" width="23.5" height="8.5" rx="4.25" fill="#000" fill-opacity="0.3864"/>
<rect x="140.65" y="645.35" width="23.5" height="8.5" rx="4.25" fill="#000" fill-opacity="0.3864"/>
<rect x="169.35" y="645.35" width="23.5" height="8.5" rx="4.25" fill="#000" fill-opacity="0.4416"/>
<rect x="198.05" y="645.35" width="23.5" height="8.5" rx="4.25" fill="#000" fill-opacity="0.3496"/>
<rect x="226.75" y="645.35" width="23.5" height="8.5" rx="4.25" fill="#000" fill-opacity="0.3496"/>
<rect x="255.45" y="645.35" width="23.5" height="8.5" rx="4.25" fill="#000" fill-opacity="0.2024"/>
<rect x="284.15" y="645.35" width="23.5" height="8.5" rx="4.25" fill="#000" fill-opacity="0.7360000000000001"/>
<rect x="312.85" y="645.35" width="23.5" height="8.5" rx="4.25" fill="#000" fill-opacity="0.4416"/>
<rect x="341.55" y="645.35" width="23.5" height="8.5" rx="4.25" fill="#000" fill-opacity="0.47840000000000005"/>
<rect x="370.25" y="645.35" width="23.5" height="8.5" rx="4.25" fill="#000" fill-opacity="0.8280000000000001"/>
<rect x="398.95" y="645.35" width="23.5" height="8.5" rx="4.25" fill="#000" fill-opacity="0.92"/>
</g>
</g>
<rect x="80.1" y="633.9" width="347.2" height="26.6" fill="none" stroke="#000" stroke-width="1.6"/>
<clipPath id="cpE2"><rect x="80.1" y="669" width="347.2" height="25.8"/></clipPath>
<rect x="80.1" y="669" width="347.2" height="25.8" fill="#e0e0e0"/>
<g clip-path="url(#cpE2)">
<g filter="url(#b0_9)">
<path d="M85.0 676.8Q95.0 678.96 105.0 676.8" stroke="#000" stroke-opacity="0.5900000000000001" stroke-width="3.4" fill="none" stroke-linecap="round"/>
<path d="M113.7 676.6Q123.7 678.76 133.7 676.6" stroke="#000" stroke-opacity="0.56" stroke-width="3.4" fill="none" stroke-linecap="round"/>
<path d="M142.4 676.8Q152.4 678.96 162.4 676.8" stroke="#000" stroke-opacity="0.56" stroke-width="3.4" fill="none" stroke-linecap="round"/>
<path d="M171.1 676.6Q181.1 678.76 191.1 676.6" stroke="#000" stroke-opacity="0.5900000000000001" stroke-width="3.4" fill="none" stroke-linecap="round"/>
<path d="M199.8 677.0Q209.8 679.16 219.8 677.0" stroke="#000" stroke-opacity="0.56" stroke-width="3.4" fill="none" stroke-linecap="round"/>
<path d="M228.5 677.4Q238.5 679.56 248.5 677.4" stroke="#000" stroke-opacity="0.56" stroke-width="3.4" fill="none" stroke-linecap="round"/>
<path d="M257.2 678.0Q267.2 680.16 277.2 678.0" stroke="#000" stroke-opacity="0.64" stroke-width="3.4" fill="none" stroke-linecap="round"/>
<path d="M285.9 678.4Q295.9 680.56 305.9 678.4" stroke="#000" stroke-opacity="0.5900000000000001" stroke-width="3.4" fill="none" stroke-linecap="round"/>
<path d="M314.6 679.0Q324.6 681.16 334.6 679.0" stroke="#000" stroke-opacity="0.5900000000000001" stroke-width="3.4" fill="none" stroke-linecap="round"/>
<path d="M343.3 680.4Q353.3 682.56 363.3 680.4" stroke="#000" stroke-opacity="0.54" stroke-width="3.4" fill="none" stroke-linecap="round"/>
<path d="M372.0 682.8Q382.0 684.96 392.0 682.8" stroke="#000" stroke-opacity="0.66" stroke-width="3.4" fill="none" stroke-linecap="round"/>
<path d="M400.7 685.2Q410.7 687.36 420.7 685.2" stroke="#000" stroke-opacity="0.76" stroke-width="3.4" fill="none" stroke-linecap="round"/>
</g>
</g>
<rect x="80.1" y="669" width="347.2" height="25.8" fill="none" stroke="#000" stroke-width="1.6"/>
<text transform="translate(65.38 760.3) scale(0.7744 1.0291)" font-size="40" stroke="#000" stroke-width="0.85">F</text>
<text transform="translate(144.6 942.2) rotate(-90) scale(1.0072 1)" font-size="23.8" stroke="#000" stroke-width="0.2">AdipoR1/ β-actin</text>
<line x1="176.2" y1="744.8" x2="176.2" y2="963.25" stroke="#000" stroke-width="2.7" />
<line x1="174.85" y1="961.9" x2="373.1" y2="961.9" stroke="#000" stroke-width="2.7" />
<line x1="167.4" y1="961.9" x2="176.2" y2="961.9" stroke="#000" stroke-width="2.7" />
<text transform="translate(164.6 967.87) scale(1 1.07)" text-anchor="end" font-size="15.5" font-weight="bold" stroke="#000" stroke-width="0.3">0</text>
<line x1="167.4" y1="894.8" x2="176.2" y2="894.8" stroke="#000" stroke-width="2.7" />
<text transform="translate(164.6 900.77) scale(1 1.07)" text-anchor="end" font-size="15.5" font-weight="bold" stroke="#000" stroke-width="0.3">1</text>
<line x1="167.4" y1="827.6" x2="176.2" y2="827.6" stroke="#000" stroke-width="2.7" />
<text transform="translate(164.6 833.57) scale(1 1.07)" text-anchor="end" font-size="15.5" font-weight="bold" stroke="#000" stroke-width="0.3">2</text>
<line x1="167.4" y1="760.4" x2="176.2" y2="760.4" stroke="#000" stroke-width="2.7" />
<text transform="translate(164.6 766.37) scale(1 1.07)" text-anchor="end" font-size="15.5" font-weight="bold" stroke="#000" stroke-width="0.3">3</text>
<line x1="221.4" y1="961.9" x2="221.4" y2="970.8" stroke="#000" stroke-width="2.7" />
<line x1="325.6" y1="961.9" x2="325.6" y2="970.8" stroke="#000" stroke-width="2.7" />
<text transform="translate(195.04 993.9) scale(1.0292 1)" font-size="23.5" stroke="#000" stroke-width="0.2">Male</text>
<text transform="translate(285.85 993.9) scale(1.0272 1)" font-size="23.5" stroke="#000" stroke-width="0.2">Female</text>
<rect x="190.6" y="895.7" width="22.7" height="66.2" fill="#d4d4d4" stroke="#000" stroke-width="2.7"/>
<rect x="229.7" y="919.7" width="22.9" height="42.2" fill="#55a1fb" stroke="#000" stroke-width="2.7"/>
<rect x="294.5" y="844.2" width="23.7" height="117.7" fill="#d4d4d4" stroke="#000" stroke-width="2.7"/>
<rect x="333.8" y="837.9" width="23.5" height="124.0" fill="#55a1fb" stroke="#000" stroke-width="2.7"/>
<path d="M202.3 887.5V901.2M196.5 887.5H208.1M196.5 901.2H208.1" stroke="#000" stroke-width="1.4" fill="none"/>
<path d="M241.1 916.3V923.5M235.3 916.3H246.9M235.3 923.5H246.9" stroke="#000" stroke-width="1.4" fill="none"/>
<path d="M306.5 834.3V852.7M300.7 834.3H312.3M300.7 852.7H312.3" stroke="#000" stroke-width="1.4" fill="none"/>
<path d="M345.6 827.5V847.9M339.8 827.5H351.4M339.8 847.9H351.4" stroke="#000" stroke-width="1.4" fill="none"/>
<circle cx="202.3" cy="872.6" r="3.15" fill="none" stroke="#000" stroke-width="2.2"/>
<circle cx="202.3" cy="883.9" r="3.15" fill="none" stroke="#000" stroke-width="2.2"/>
<circle cx="192" cy="890.6" r="3.15" fill="none" stroke="#000" stroke-width="2.2"/>
<circle cx="202.3" cy="897.1" r="3.15" fill="none" stroke="#000" stroke-width="2.2"/>
<circle cx="202.3" cy="903.8" r="3.15" fill="none" stroke="#000" stroke-width="2.2"/>
<circle cx="202.3" cy="919.9" r="3.15" fill="none" stroke="#000" stroke-width="2.2"/>
<path d="M241.1 905.7L244.0 911.07H238.2Z" fill="none" stroke="#000" stroke-width="2.2"/>
<path d="M251.9 912.2L254.8 917.57H249.0Z" fill="none" stroke="#000" stroke-width="2.2"/>
<path d="M241.1 917.0L244.0 922.37H238.2Z" fill="none" stroke="#000" stroke-width="2.2"/>
<path d="M251.9 920.6L254.8 925.97H249.0Z" fill="none" stroke="#000" stroke-width="2.2"/>
<path d="M231.6 925.9L234.5 931.26H228.7Z" fill="none" stroke="#000" stroke-width="2.2"/>
<circle cx="306.5" cy="806.7" r="3.15" fill="none" stroke="#000" stroke-width="2.2"/>
<circle cx="296.4" cy="833.5" r="3.15" fill="none" stroke="#000" stroke-width="2.2"/>
<circle cx="306.5" cy="832.3" r="3.15" fill="none" stroke="#000" stroke-width="2.2"/>
<circle cx="306.5" cy="858" r="3.15" fill="none" stroke="#000" stroke-width="2.2"/>
<circle cx="296.4" cy="864.7" r="3.15" fill="none" stroke="#000" stroke-width="2.2"/>
<circle cx="316.3" cy="864" r="3.15" fill="none" stroke="#000" stroke-width="2.2"/>
<path d="M335.2 811.9L338.1 817.26H332.3Z" fill="none" stroke="#000" stroke-width="2.2"/>
<path d="M355.6 815.8L358.5 821.17H352.7Z" fill="none" stroke="#000" stroke-width="2.2"/>
<path d="M335.2 822.3L338.1 827.67H332.3Z" fill="none" stroke="#000" stroke-width="2.2"/>
<path d="M345.6 821.5L348.5 826.87H342.7Z" fill="none" stroke="#000" stroke-width="2.2"/>
<path d="M345.6 861.1L348.5 866.47H342.7Z" fill="none" stroke="#000" stroke-width="2.2"/>
<path d="M345.6 874.5L348.5 879.87H342.7Z" fill="none" stroke="#000" stroke-width="2.2"/>
<path d="M201.3 854.7V846.3H238.9V854.7" fill="none" stroke="#000" stroke-width="2.5"/>
<text transform="translate(209.75 846.07) scale(0.9928 1.0222)" font-size="24" font-weight="bold" stroke="#000" stroke-width="0.2" letter-spacing="2.5">**</text>
<rect x="341.3" y="760.3" width="18.3" height="17.7" fill="#d4d4d4" stroke="#000" stroke-width="2.5"/>
<rect x="341.3" y="784.9" width="18.3" height="17.5" fill="#55a1fb" stroke="#000" stroke-width="2.5"/>
<text transform="translate(364.91 775.3) scale(1.1137 1)" font-size="14.6" stroke="#000" stroke-width="0.25">LFD</text>
<text transform="translate(365.28 799.9) scale(1.0571 1)" font-size="14.6" stroke="#000" stroke-width="0.25">HFD</text>
<text transform="translate(405.6 754.99) scale(0.899 1.0105)" font-size="40" stroke="#000" stroke-width="0.8">G</text>
<text transform="translate(481.8 1000.6) rotate(-90) scale(0.9819 1)" font-size="23.6" stroke="#000" stroke-width="0.2">AdipoR1 mRNA expression</text>
<line x1="526.6" y1="753.55" x2="526.6" y2="965.65" stroke="#000" stroke-width="2.7" />
<line x1="525.25" y1="964.3" x2="717" y2="964.3" stroke="#000" stroke-width="2.7" />
<line x1="517.6" y1="964.3" x2="526.6" y2="964.3" stroke="#000" stroke-width="2.7" />
<text transform="translate(515.4 970.27) scale(1 1.07)" text-anchor="end" font-size="15.5" font-weight="bold" stroke="#000" stroke-width="0.3">0.0</text>
<line x1="517.6" y1="922.4" x2="526.6" y2="922.4" stroke="#000" stroke-width="2.7" />
<text transform="translate(515.4 928.37) scale(1 1.07)" text-anchor="end" font-size="15.5" font-weight="bold" stroke="#000" stroke-width="0.3">0.5</text>
<line x1="517.6" y1="880.5" x2="526.6" y2="880.5" stroke="#000" stroke-width="2.7" />
<text transform="translate(515.4 886.47) scale(1 1.07)" text-anchor="end" font-size="15.5" font-weight="bold" stroke="#000" stroke-width="0.3">1.0</text>
<line x1="517.6" y1="838.6" x2="526.6" y2="838.6" stroke="#000" stroke-width="2.7" />
<text transform="translate(515.4 844.57) scale(1 1.07)" text-anchor="end" font-size="15.5" font-weight="bold" stroke="#000" stroke-width="0.3">1.5</text>
<line x1="517.6" y1="796.8" x2="526.6" y2="796.8" stroke="#000" stroke-width="2.7" />
<text transform="translate(515.4 802.77) scale(1 1.07)" text-anchor="end" font-size="15.5" font-weight="bold" stroke="#000" stroke-width="0.3">2.0</text>
<line x1="517.6" y1="754.9" x2="526.6" y2="754.9" stroke="#000" stroke-width="2.7" />
<text transform="translate(515.4 760.87) scale(1 1.07)" text-anchor="end" font-size="15.5" font-weight="bold" stroke="#000" stroke-width="0.3">2.5</text>
<line x1="570.9" y1="964.3" x2="570.9" y2="972.2" stroke="#000" stroke-width="2.7" />
<line x1="671.4" y1="964.3" x2="671.4" y2="972.2" stroke="#000" stroke-width="2.7" />
<text transform="translate(545.06 994.7) scale(1.0203 1)" font-size="23" stroke="#000" stroke-width="0.2">Male</text>
<text transform="translate(632.88 994.7) scale(1.0115 1)" font-size="23" stroke="#000" stroke-width="0.2">Female</text>
<rect x="541.4" y="881.3" width="21.5" height="83.0" fill="#d4d4d4" stroke="#000" stroke-width="2.7"/>
<rect x="579" y="914.2" width="21.5" height="50.1" fill="#55a1fb" stroke="#000" stroke-width="2.7"/>
<rect x="641.5" y="863.3" width="22.2" height="101.0" fill="#d4d4d4" stroke="#000" stroke-width="2.7"/>
<rect x="679.4" y="865.7" width="21.9" height="98.6" fill="#55a1fb" stroke="#000" stroke-width="2.7"/>
<path d="M551.9 876V886.2M546.1 876H557.7M546.1 886.2H557.7" stroke="#000" stroke-width="1.4" fill="none"/>
<path d="M589.5 910.3V918M583.7 910.3H595.3M583.7 918H595.3" stroke="#000" stroke-width="1.4" fill="none"/>
<path d="M652.7 854.7V870.2M646.9 854.7H658.5M646.9 870.2H658.5" stroke="#000" stroke-width="1.4" fill="none"/>
<path d="M690.4 853.9V876M684.6 853.9H696.2M684.6 876H696.2" stroke="#000" stroke-width="1.4" fill="none"/>
<circle cx="551.9" cy="863" r="3.15" fill="none" stroke="#000" stroke-width="2.2"/>
<circle cx="542.3" cy="880.8" r="3.15" fill="none" stroke="#000" stroke-width="2.2"/>
<circle cx="551.9" cy="882.7" r="3.15" fill="none" stroke="#000" stroke-width="2.2"/>
<circle cx="541.6" cy="889.9" r="3.15" fill="none" stroke="#000" stroke-width="2.2"/>
<circle cx="562" cy="887" r="3.15" fill="none" stroke="#000" stroke-width="2.2"/>
<path d="M580 903.7L582.9 909.07H577.1Z" fill="none" stroke="#000" stroke-width="2.2"/>
<path d="M599.6 903.5L602.5 908.87H596.7Z" fill="none" stroke="#000" stroke-width="2.2"/>
<path d="M587.1 909.6L590.0 914.97H584.2Z" fill="none" stroke="#000" stroke-width="2.2"/>
<path d="M593.1 910.8L596.0 916.17H590.2Z" fill="none" stroke="#000" stroke-width="2.2"/>
<path d="M587.1 916.8L590.0 922.17H584.2Z" fill="none" stroke="#000" stroke-width="2.2"/>
<path d="M587.1 925.9L590.0 931.26H584.2Z" fill="none" stroke="#000" stroke-width="2.2"/>
<circle cx="652.7" cy="841.2" r="3.15" fill="none" stroke="#000" stroke-width="2.2"/>
<circle cx="652.7" cy="850.8" r="3.15" fill="none" stroke="#000" stroke-width="2.2"/>
<circle cx="652.7" cy="867.1" r="3.15" fill="none" stroke="#000" stroke-width="2.2"/>
<circle cx="662.3" cy="865.2" r="3.15" fill="none" stroke="#000" stroke-width="2.2"/>
<circle cx="652.7" cy="888" r="3.15" fill="none" stroke="#000" stroke-width="2.2"/>
<path d="M690.4 831.2L693.3 836.57H687.5Z" fill="none" stroke="#000" stroke-width="2.2"/>
<path d="M690.4 843.6L693.3 848.97H687.5Z" fill="none" stroke="#000" stroke-width="2.2"/>
<path d="M690.4 869.5L693.3 874.87H687.5Z" fill="none" stroke="#000" stroke-width="2.2"/>
<path d="M690.4 880.7L693.3 886.07H687.5Z" fill="none" stroke="#000" stroke-width="2.2"/>
<path d="M690.4 890.8L693.3 896.17H687.5Z" fill="none" stroke="#000" stroke-width="2.2"/>
<path d="M551.1 846.4V838.8H587.1V846.4" fill="none" stroke="#000" stroke-width="2.4"/>
<text transform="translate(559.56 837.85) scale(0.9494 0.9667)" font-size="24" font-weight="bold" stroke="#000" stroke-width="0.2" letter-spacing="2.5">**</text>
<rect x="686.7" y="769" width="17.2" height="16.9" fill="#d4d4d4" stroke="#000" stroke-width="2.5"/>
<rect x="686.7" y="792.3" width="17.2" height="17.2" fill="#55a1fb" stroke="#000" stroke-width="2.5"/>
<text transform="translate(709.52 783.6) scale(1.1 1)" font-size="14.2" stroke="#000" stroke-width="0.25">LFD</text>
<text transform="translate(709.79 806.7) scale(1.0495 1)" font-size="14.2" stroke="#000" stroke-width="0.25">HFD</text>
</svg>
</body>
</html>
